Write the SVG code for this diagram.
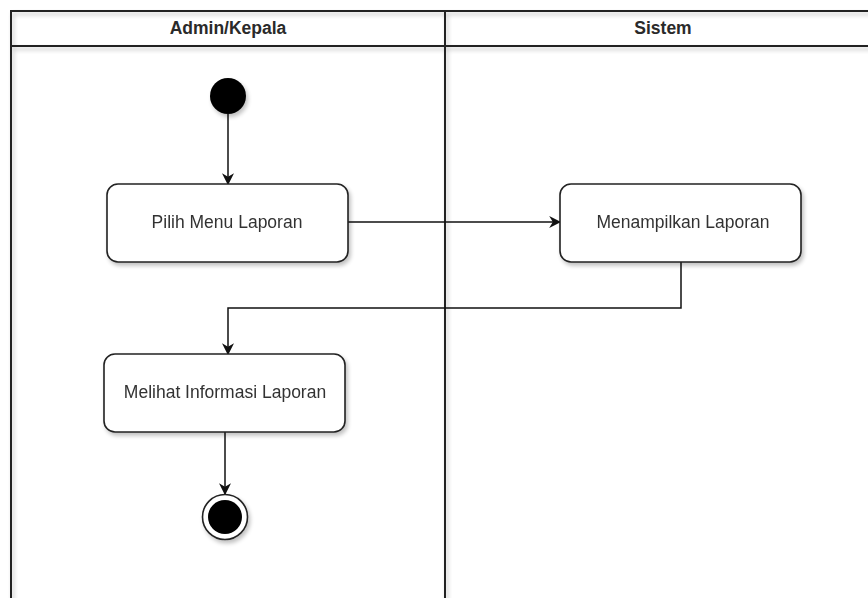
<svg xmlns="http://www.w3.org/2000/svg" width="868" height="598" viewBox="0 0 868 598">
<defs>
<filter id="sh" x="-20%" y="-20%" width="150%" height="150%">
<feGaussianBlur in="SourceAlpha" stdDeviation="2"/>
<feOffset dx="2" dy="3" result="b"/>
<feComponentTransfer><feFuncA type="linear" slope="0.25"/></feComponentTransfer>
<feMerge><feMergeNode/><feMergeNode in="SourceGraphic"/></feMerge>
</filter>
<marker id="arr" viewBox="0 0 10 10" refX="9" refY="5" markerWidth="12" markerHeight="12" markerUnits="userSpaceOnUse" orient="auto">
<path d="M0,0 L10,5 L0,10 L3,5 Z" fill="#111"/>
</marker>
<style>
.lane{fill:none;stroke:#222;stroke-width:2}
.hdr{font-family:"Liberation Sans",Arial,sans-serif;font-size:17.5px;font-weight:bold;fill:#2a2a2a;text-anchor:middle}
.box{fill:#fff;stroke:#222;stroke-width:1.6}
.lbl{font-family:"Liberation Sans",Arial,sans-serif;font-size:17.5px;fill:#333;text-anchor:middle}
.con{fill:none;stroke:#111;stroke-width:1.5}
</style>
</defs>
<rect width="868" height="598" fill="#fff"/>
<g id="lanes" filter="url(#sh)">
<path class="lane" d="M11,600 L11,11 L870,11 M11,46 L870,46 M445,11 L445,600"/>
</g>
<g id="lane-headers">
<text class="hdr" x="228" y="34">Admin/Kepala</text>
<text class="hdr" x="663" y="34">Sistem</text>
</g>
<g id="connectors">
<path class="con" d="M228,114 L228,184" marker-end="url(#arr)"/>
<path class="con" d="M348,222 L560,222" marker-end="url(#arr)"/>
<path class="con" d="M681,262 L681,308 L228,308 L228,354" marker-end="url(#arr)"/>
<path class="con" d="M225,432 L225,494" marker-end="url(#arr)"/>
</g>
<g id="start" filter="url(#sh)">
<circle cx="228" cy="96" r="18" fill="#000"/>
</g>
<g id="pilih-menu" filter="url(#sh)">
<rect class="box" x="107" y="184" width="241" height="78" rx="11"/>
<text class="lbl" x="227" y="228">Pilih Menu Laporan</text>
</g>
<g id="menampilkan" filter="url(#sh)">
<rect class="box" x="560" y="184" width="241" height="78" rx="11"/>
<text class="lbl" x="683" y="228">Menampilkan Laporan</text>
</g>
<g id="melihat" filter="url(#sh)">
<rect class="box" x="104" y="354" width="241" height="78" rx="11"/>
<text class="lbl" x="225" y="398">Melihat Informasi Laporan</text>
</g>
<g id="end" filter="url(#sh)">
<circle cx="225" cy="517" r="22.5" fill="#fff" stroke="#222" stroke-width="1.6"/>
<circle cx="225" cy="517" r="17" fill="#000"/>
</g>
</svg>
